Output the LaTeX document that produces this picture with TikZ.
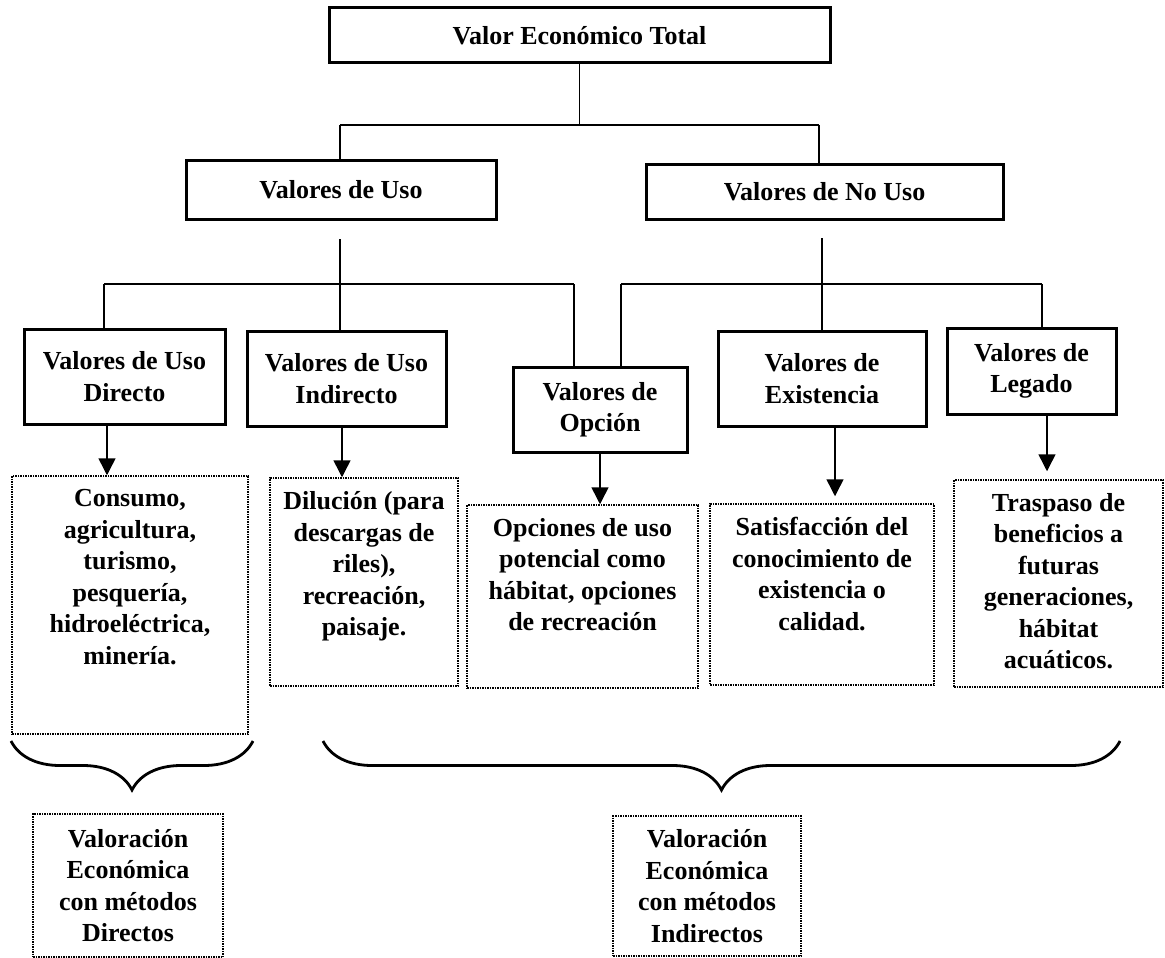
\documentclass[tikz,border=0pt]{standalone}
\usepackage{fontspec}
\setmainfont{Liberation Serif}
\usetikzlibrary{arrows.meta,decorations.pathreplacing}
\tikzset{
boxstyle/.style={rectangle, draw, line width=3pt, fill=white, align=center, inner sep=0pt},
dotbox/.style={rectangle, draw, densely dotted, line width=1.5pt, align=center, inner sep=0pt},
notetext/.style={anchor=north, align=center, inner sep=14pt},
link/.style={line width=1.2pt},
arr/.style={line width=1.5pt, -{Triangle[length=17pt, width=17pt]}},
bracestyle/.style={line width=2.8pt, decorate, decoration={brace, mirror, amplitude=49pt}}
}
\newcommand{\notebox}[6]{
  \node [dotbox, minimum width=#4pt, minimum height=#5pt] (#1) at (#2, #3) {};
  \node [notetext] (#1txt) at (#1.north) {#6};
}

\begin{document}
\begin{tikzpicture}[x=1pt, y=-1pt, font=\fontsize{26}{31.5}\selectfont\bfseries]
\useasboundingbox (0,0) rectangle (1165,958);

\node [boxstyle, minimum width=501pt, minimum height=55pt] (total) at (579.5,35.5) {Valor Económico Total};
\node [boxstyle, minimum width=310pt, minimum height=59pt] (uso) at (341,189.5) {Valores de Uso};
\node [boxstyle, minimum width=357pt, minimum height=55pt] (nouso) at (824.5,191.5) {Valores de No Uso};

\node [boxstyle, minimum width=201pt, minimum height=95pt] (directo) at (124.5,376.5) {Valores de Uso\\Directo};
\node [boxstyle, minimum width=199pt, minimum height=95pt] (indirecto) at (346.5,378.5) {Valores de Uso\\Indirecto};
\node [boxstyle, minimum width=174pt, minimum height=85pt] (opcion) at (600,409.5) {Valores de\\Opción};
\node [boxstyle, minimum width=208pt, minimum height=95pt] (existencia) at (822,378.5) {Valores de\\Existencia};
\node [boxstyle, minimum width=169pt, minimum height=86pt] (legado) at (1031.5,371) {Valores de\\Legado};

\notebox{consumo}{130}{605}{236}{258}{Consumo,\\agricultura,\\turismo,\\pesquería,\\hidroeléctrica,\\minería.}
\notebox{dilucion}{364}{582}{188}{208}{Dilución (para\\descargas de\\riles),\\recreación,\\paisaje.}
\notebox{opciones}{582.5}{596.5}{231}{183}{Opciones de uso\\potencial como\\hábitat, opciones\\de recreación}
\notebox{satisf}{822}{594.5}{224}{181}{Satisfacción del\\conocimiento de\\existencia o\\calidad.}
\notebox{traspaso}{1058.5}{583.5}{209}{207}{Traspaso de\\beneficios a\\futuras\\generaciones,\\hábitat\\acuáticos.}

\node [dotbox, minimum width=190pt, minimum height=143pt] (valdir) at (128,885.5) {Valoración\\Económica\\con métodos\\Directos};
\node [dotbox, minimum width=188pt, minimum height=140pt] (valind) at (707,886) {Valoración\\Económica\\con métodos\\Indirectos};

% tree lines
\coordinate (topJoin) at (579.5,125);
\coordinate (usoJoin) at (340,125);
\coordinate (nousoJoin) at (819,125);
\draw [link] (total.south) -- (topJoin);
\draw [link] (usoJoin) -- (nousoJoin);
\draw [link] (usoJoin) -- (usoJoin |- uso.north);
\draw [link] (nousoJoin) -- (nousoJoin |- nouso.north);

\coordinate (usoOut) at (340,239);
\coordinate (leftJoin) at (104,284);
\coordinate (midJoinL) at (574,284);
\draw [link] (usoOut) -- (usoOut |- indirecto.north);
\draw [link] (leftJoin) -- (midJoinL);
\draw [link] (leftJoin) -- (leftJoin |- directo.north);
\draw [link] (midJoinL) -- (midJoinL |- opcion.north);

\coordinate (nousoOut) at (822,238);
\coordinate (midJoinR) at (621,284);
\coordinate (rightJoin) at (1042,284);
\draw [link] (nousoOut) -- (existencia.north);
\draw [link] (midJoinR) -- (rightJoin);
\draw [link] (midJoinR) -- (midJoinR |- opcion.north);
\draw [link] (rightJoin) -- (rightJoin |- legado.north);

% arrows
\coordinate (dirOut) at ([xshift=-17.5pt]directo.south);
\coordinate (indOut) at ([xshift=-4.5pt]indirecto.south);
\coordinate (exiOut) at ([xshift=13pt]existencia.south);
\coordinate (legOut) at ([xshift=15.5pt]legado.south);
\draw [arr] (dirOut) -- (dirOut |- consumo.north);
\draw [arr] (indOut) -- (indOut |- dilucion.north);
\draw [arr] (opcion.south) -- (opcion.south |- opciones.north);
\draw [arr, shorten >=7pt] (exiOut) -- (exiOut |- satisf.north);
\draw [arr, shorten >=8pt] (legOut) -- (legOut |- traspaso.north);

% braces
\coordinate (braceL1) at (11,741);
\coordinate (braceL2) at (253,741);
\coordinate (braceR1) at (323,741);
\coordinate (braceR2) at (1120,741);
\draw [bracestyle] (braceL1) -- (braceL2);
\draw [bracestyle] (braceR1) -- (braceR2);
\end{tikzpicture}
\end{document}
